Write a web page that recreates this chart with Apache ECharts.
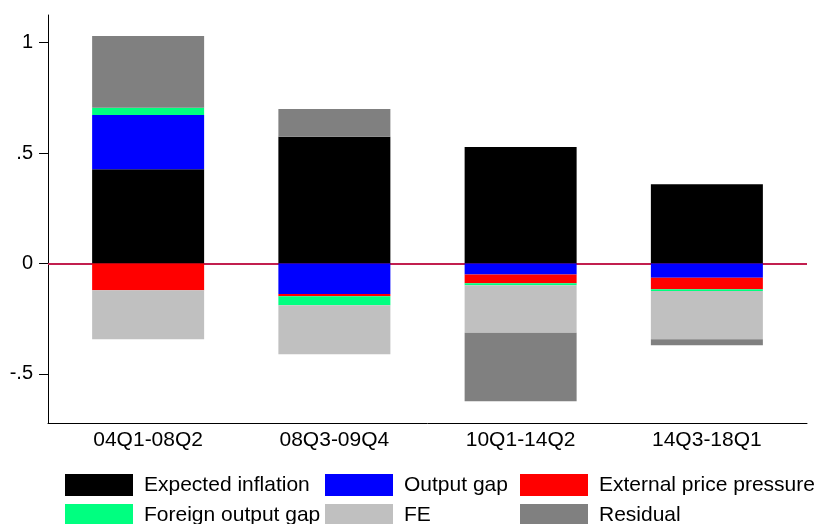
<!DOCTYPE html>
<html>
<head>
<meta charset="utf-8">
<script src="https://cdn.jsdelivr.net/npm/echarts@6/dist/echarts.min.js"></script>
<style>
html,body{margin:0;padding:0;background:#fff;}
#c{width:821px;height:524px;}
</style>
</head>
<body>
<div id="c"></div>
<script>
const categories = ['04Q1-08Q2', '08Q3-09Q4', '10Q1-14Q2', '14Q3-18Q1'];
const expectedInflation = [0.427, 0.574, 0.528, 0.359];
const outputGap = [0.245, -0.138, -0.050, -0.065];
const externalPrice = [-0.121, -0.010, -0.039, -0.051];
const foreignOutputGap = [0.033, -0.041, -0.009, -0.008];
const fe = [-0.222, -0.222, -0.216, -0.219];
const residual = [0.325, 0.125, -0.309, -0.027];
const yTicks = [-0.5, 0, 0.5, 1];
const yTickLabels = ['-.5', '0', '.5', '1'];

const FONT = 'Liberation Sans, Arial, sans-serif';
const Y_MIN = -0.722, Y_MAX = 1.125;
const seriesDefs = [
  ['Expected inflation', expectedInflation, '#000000'],
  ['Output gap', outputGap, '#0000ff'],
  ['External price pressure', externalPrice, '#ff0000'],
  ['Foreign output gap', foreignOutputGap, '#00ff80'],
  ['FE', fe, '#c0c0c0'],
  ['Residual', residual, '#808080']
];

const series = seriesDefs.map(([name, vals, color]) => ({
  name: name,
  type: 'bar',
  stack: 'total',
  xAxisIndex: 0,
  yAxisIndex: 0,
  barWidth: 112,
  z: 3,
  itemStyle: { color: color },
  emphasis: { disabled: true },
  data: vals
}));

// zero reference line spanning the full plot frame
series.push({
  name: '_zero',
  type: 'line',
  xAxisIndex: 1,
  yAxisIndex: 1,
  data: [],
  silent: true,
  markLine: {
    silent: true,
    symbol: 'none',
    z: 1,
    label: { show: false },
    lineStyle: { color: '#c21f4f', width: 1.8, type: 'solid' },
    data: [{ yAxis: 0 }]
  }
});

const legendBase = {
  orient: 'vertical',
  top: 474,
  height: 60,
  padding: 0,
  itemWidth: 68,
  itemHeight: 22,
  itemGap: 8,
  icon: 'rect',
  selectedMode: false,
  textStyle: { fontFamily: FONT, fontSize: 21, color: '#000', padding: [0, 0, 0, 6] }
};

const option = {
  animation: false,
  backgroundColor: '#fff',
  textStyle: { fontFamily: FONT },
  grid: [
    { left: 55, right: 21, top: 15, bottom: 101, containLabel: false },
    { left: 48, right: 14, top: 15, bottom: 101, containLabel: false }
  ],
  legend: [
    Object.assign({}, legendBase, { left: 65, data: ['Expected inflation', 'Foreign output gap'] }),
    Object.assign({}, legendBase, { left: 325, data: ['Output gap', 'FE'] }),
    Object.assign({}, legendBase, { left: 520, data: ['External price pressure', 'Residual'] })
  ],
  xAxis: [
    {
      type: 'category',
      gridIndex: 0,
      data: categories,
      axisLine: { show: false },
      axisTick: { show: false },
      splitLine: { show: false },
      axisLabel: { fontFamily: FONT, fontSize: 21, color: '#000', margin: 7 }
    },
    {
      type: 'value',
      gridIndex: 1,
      min: 0,
      max: 1,
      splitLine: { show: false },
      axisTick: { show: false },
      axisLabel: { show: false },
      axisLine: { show: true, onZero: false, lineStyle: { color: '#000', width: 1 } }
    }
  ],
  yAxis: [
    {
      type: 'value',
      gridIndex: 0,
      min: Y_MIN,
      max: Y_MAX,
      show: false
    },
    {
      type: 'value',
      gridIndex: 1,
      min: Y_MIN,
      max: Y_MAX,
      splitLine: { show: false },
      axisLine: { show: true, onZero: false, lineStyle: { color: '#000', width: 1 } },
      axisTick: { show: true, customValues: yTicks, length: 9, lineStyle: { color: '#000' } },
      axisLabel: {
        customValues: yTicks,
        formatter: v => { const k = yTicks.indexOf(v); return k >= 0 ? yTickLabels[k] : ''; },
        fontFamily: FONT, fontSize: 20, color: '#000', margin: 15
      }
    }
  ],
  series: series
};

const chart = echarts.init(document.getElementById('c'), null, { renderer: 'canvas' });
chart.setOption(option);
</script>
</body>
</html>
